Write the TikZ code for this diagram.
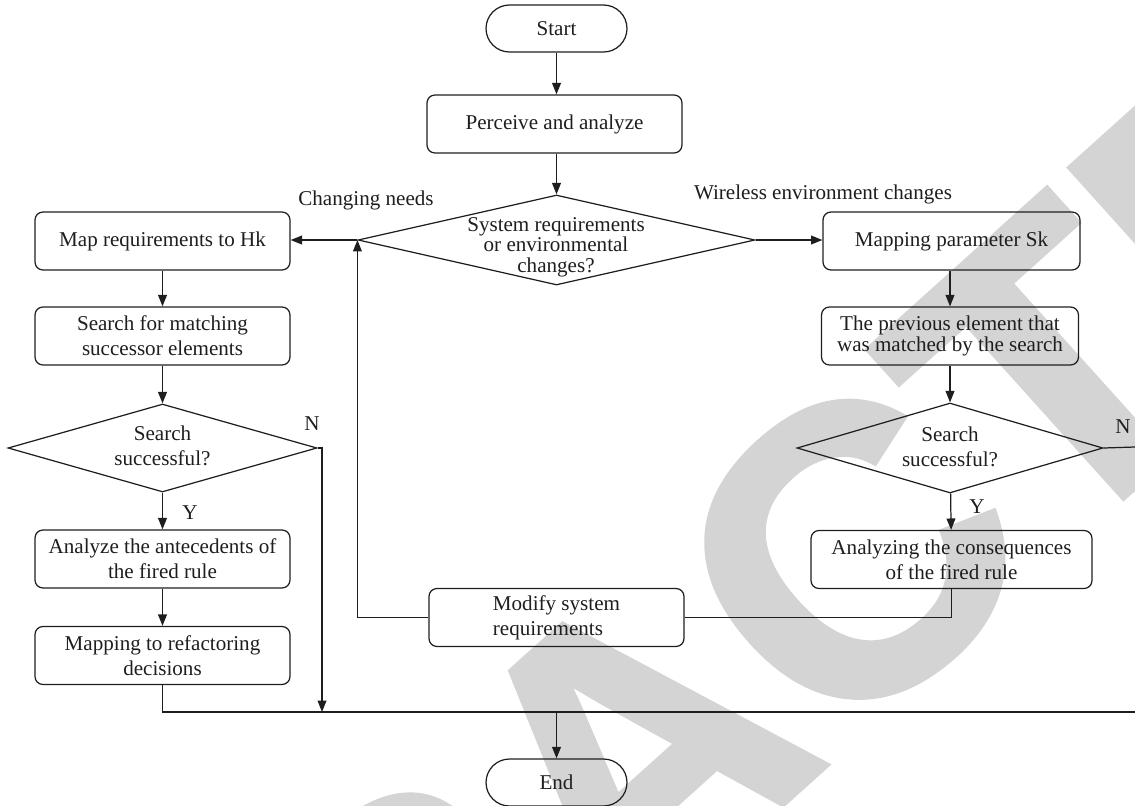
\documentclass[tikz,border=0pt]{standalone}
\usepackage{fontspec}
\setmainfont{Liberation Serif}
\newfontfamily\wmfamily[FakeBold=1.5]{Liberation Sans}
\usetikzlibrary{shapes.geometric,arrows.meta}
\definecolor{ink}{RGB}{30,30,30}
\definecolor{wmgray}{RGB}{212,212,212}
\begin{document}
\begin{tikzpicture}[x=0.02cm,y=-0.02cm,
  every node/.style={text=ink},
  base/.style={draw=ink, line width=0.7pt, align=center, inner sep=0pt,
               font=\fontsize{12}{14.2}\selectfont},
  box/.style={base, rounded corners=4.5pt, minimum width=5.1cm, minimum height=1.16cm},
  capsule/.style={base, rounded corners=0.47cm, minimum width=2.82cm, minimum height=0.94cm},
  dia/.style={draw=ink, line width=0.7pt, diamond, inner sep=0pt},
  txt/.style={align=center, inner sep=0pt, font=\fontsize{12}{14.2}\selectfont},
  link/.style={draw=ink, line width=0.7pt},
  arr/.style={link, -{Triangle[length=6.5pt,width=5pt]}}]
\useasboundingbox (0,0) rectangle (1135,805);

% background stamp
\begin{scope}
  \clip (0,0) rectangle (1135,805);
  \node[rotate=42, inner sep=0pt, text=wmgray,
        font=\wmfamily\bfseries\fontsize{232}{232}\selectfont] (stamp) at (631,752) {RETRACTED};
\end{scope}

% terminals and process boxes
\node[capsule] (start) at (556.5,28.5) {Start};
\node[box] (perceive) at (554.5,124) {Perceive and analyze};
\node[dia, minimum width=7.94cm, minimum height=1.8cm] (d0) at (556.5,240) {};
\node[txt, font=\fontsize{12}{11.6}\selectfont] (d0t) at (556,247) {System requirements\\or environmental\\changes?};

\node[box] (map) at (162.5,241) {Map requirements to Hk};
\node[box] (search) at (162.5,336) {Search for matching\\successor elements};
\node[dia, minimum width=6.18cm, minimum height=1.76cm] (d1) at (162.5,448) {};
\node[txt] (d1t) at (162.5,446) {Search\\successful?};
\node[box] (analyze) at (162.5,559) {Analyze the antecedents of\\the fired rule};
\node[box] (mapping) at (162.5,655.5) {Mapping to refactoring\\decisions};

\node[box, minimum width=5.14cm] (param) at (951.5,241) {Mapping parameter Sk};
\node[box, minimum width=5.14cm, font=\fontsize{12}{12}\selectfont] (prev) at (950,336) {The previous element that\\was matched by the search};
\node[dia, minimum width=6.12cm, minimum height=1.8cm] (d2) at (950,448) {};
\node[txt] (d2t) at (950,447) {Search\\successful?};
\node[box, minimum width=5.62cm] (analyzing) at (951.5,559.5) {Analyzing the consequences\\of the fired rule};

\node[box, align=left] (modify) at (556.5,617.5) {Modify system\\requirements};
\node[capsule] (end) at (556.5,782.5) {End};

% branch labels
\node[txt] (lchg) at (366,200) {Changing needs};
\node[txt] (lwir) at (823,194) {Wireless environment changes};
\node[txt] (n1) at (312,424) {N};
\node[txt] (y1) at (190,513) {Y};
\node[txt] (n2) at (1123,427) {N};
\node[txt] (y2) at (977,507) {Y};

% free ends of the lines running off the right side
\coordinate (busR) at (1135,712);
\coordinate (nR) at (1135,447);
\coordinate (nL) at (322,712);

% main flow
\draw[arr] (start.south) -- (start.south |- perceive.north);
\draw[arr] (d0.north |- perceive.south) -- (d0.north);
\draw[arr] (d0.west) -- (d0.west -| map.east);
\draw[arr] (d0.east) -- (d0.east -| param.west);

% left branch
\draw[arr] (map) -- (search);
\draw[arr] (search) -- (d1);
\draw[arr] (d1) -- (analyze);
\draw[arr] (analyze) -- (mapping);
\draw[arr] (d1.east) -| (nL);
\draw[link] (mapping.south) |- (busR);

% right branch
\draw[arr] (param.south -| prev.north) -- (prev.north);
\draw[arr] (prev) -- (d2);
\draw[arr] (d2) -- (analyzing);
\draw[link] (d2.east) -- (nR);
\draw[link] (analyzing.south) |- (modify.east);

% feedback and exit
\draw[arr] (modify.west) -| (d0.west);
\draw[arr] (end.north |- busR) -- (end.north);
\end{tikzpicture}
\end{document}
